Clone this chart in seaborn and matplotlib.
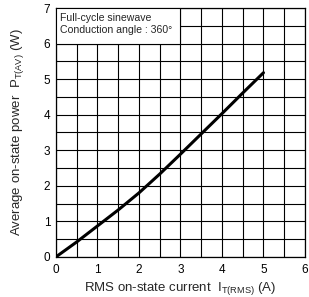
import matplotlib
matplotlib.use("Agg")
import matplotlib.pyplot as plt
import seaborn as sns
import numpy as np
import pandas as pd
from matplotlib.patches import Rectangle

current = [0, 0.5, 1.0, 1.5, 2.0, 2.5, 3.0, 3.5, 4.0, 4.5, 5.0]
power = [0, 0.42, 0.87, 1.32, 1.80, 2.33, 2.89, 3.46, 4.03, 4.61, 5.18]
x_ticks = [0, 1, 2, 3, 4, 5, 6]
y_ticks = [0, 1, 2, 3, 4, 5, 6, 7]
note = "Full-cycle sinewave\nConduction angle : 360°"

sns.set_theme(style="white")
plt.rcParams['font.family'] = ['Liberation Sans', 'DejaVu Sans']
plt.rcParams['mathtext.default'] = 'regular'

df = pd.DataFrame({"I": current, "P": power})

fig = plt.figure(figsize=(3.09, 2.97), dpi=100)
ax = fig.add_axes([0.181, 0.135, 0.806, 0.838])

sns.lineplot(data=df, x="I", y="P", ax=ax, color="black", linewidth=2.2, zorder=5)

ax.set_xlim(0, 6)
ax.set_ylim(0, 7)
ax.set_xticks(x_ticks)
ax.set_xticklabels([str(t) for t in x_ticks])
ax.set_yticks(y_ticks)
ax.set_yticklabels([str(t) for t in y_ticks])
ax.set_xticks(np.arange(0.5, 6, 1.0), minor=True)
ax.set_yticks(np.arange(0.5, 7, 1.0), minor=True)
ax.grid(True, which="both", color="black", linewidth=0.8)
ax.tick_params(which="both", length=0, labelsize=8.5, colors="black")
ax.tick_params(axis="x", pad=5)
ax.tick_params(axis="y", pad=4)

ax.add_patch(Rectangle((0, 6), 3, 1, facecolor="white", edgecolor="black", linewidth=0.8, zorder=3))
ax.text(0.1, 6.86, note, fontsize=7.6, va="top", ha="left", zorder=4, linespacing=1.2)

for s in ax.spines.values():
    s.set_color("black")
    s.set_linewidth(0.9)

ax.set_xlabel("RMS on-state current  I$_{T(RMS)}$ (A)", fontsize=9.5, labelpad=3)
ax.set_ylabel("Average on-state power  P$_{T(AV)}$ (W)", fontsize=9.5, labelpad=13)

fig.savefig("out.png", dpi=100)
